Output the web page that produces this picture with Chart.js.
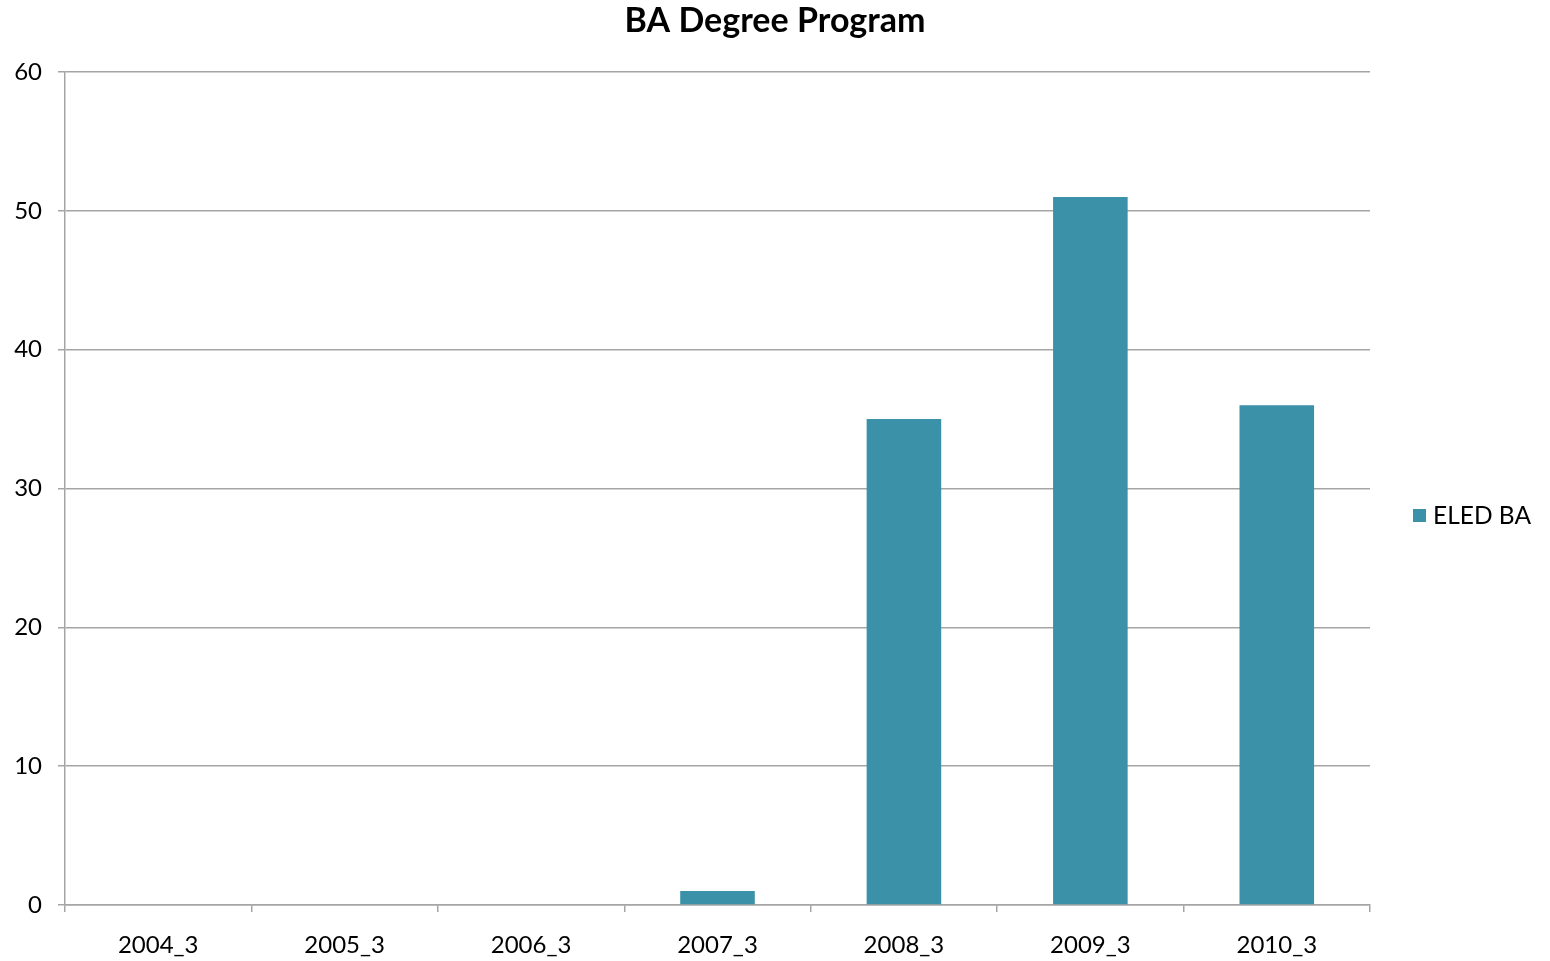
<!DOCTYPE html>
<html>
<head>
<meta charset="utf-8">
<script src="https://cdn.jsdelivr.net/npm/chart.js@4/dist/chart.umd.min.js"></script>
<style>
  html, body { margin: 0; padding: 0; background: #fff; }
  #wrap { width: 1550px; height: 961px; }
</style>
</head>
<body>
<div id="wrap"><canvas id="ba-chart"></canvas></div>
<script>
// 차트 데이터
const categories = ['2004_3', '2005_3', '2006_3', '2007_3', '2008_3', '2009_3', '2010_3'];
const eledBA = [0, 0, 0, 1, 35, 51, 36];
const seriesName = 'ELED BA';
const chartTitle = 'BA Degree Program';
const yTicks = { min: 0, max: 60, step: 10 };

const FONT = 'Lato, "Open Sans", sans-serif';
const BAR_COLOR = '#3a91a8';
const GRID_COLOR = '#a5a5a5';

// 제목과 범례 직접 그리기
const titleLegendPlugin = {
  id: 'titleLegend',
  afterDraw(chart) {
    const ctx = chart.ctx;
    ctx.save();
    ctx.fillStyle = '#000';
    ctx.font = 'bold 34px ' + FONT;
    ctx.textAlign = 'center';
    ctx.textBaseline = 'middle';
    ctx.fillText(chartTitle, chart.width / 2, 21);

    const ds = chart.data.datasets[0];
    ctx.fillStyle = ds.backgroundColor;
    ctx.fillRect(1413, 509, 13, 13);
    ctx.fillStyle = '#000';
    ctx.font = '24.5px ' + FONT;
    ctx.textAlign = 'left';
    ctx.fillText(ds.label, 1433, 516);
    ctx.restore();
  }
};

const ctx = document.getElementById('ba-chart').getContext('2d');
const chart = new Chart(ctx, {
  type: 'bar',
  data: {
    labels: categories,
    datasets: [{
      label: seriesName,
      data: eledBA,
      backgroundColor: BAR_COLOR,
      barPercentage: 0.4,
      categoryPercentage: 1.0
    }]
  },
  plugins: [titleLegendPlugin],
  options: {
    responsive: true,
    maintainAspectRatio: false,
    animation: false,
    layout: { padding: { top: 72, right: 180, left: 0, bottom: 0 } },
    plugins: {
      legend: { display: false },
      title: { display: false },
      tooltip: { enabled: false }
    },
    scales: {
      x: {
        afterFit(scale) { scale.height = 56; },
        grid: {
          offset: true,
          drawOnChartArea: false,
          drawTicks: true,
          tickLength: 7,
          color: GRID_COLOR,
          lineWidth: 1.5
        },
        border: { color: GRID_COLOR, width: 1.5 },
        ticks: {
          color: '#000',
          font: { family: FONT, size: 24 },
          padding: 19,
          maxRotation: 0
        }
      },
      y: {
        min: yTicks.min,
        max: yTicks.max,
        afterFit(scale) { scale.width = 65; },
        grid: {
          color: GRID_COLOR,
          lineWidth: 1.5,
          tickLength: 7
        },
        border: { color: GRID_COLOR, width: 1.5 },
        ticks: {
          stepSize: yTicks.step,
          color: '#000',
          font: { family: FONT, size: 24 },
          padding: 16
        }
      }
    }
  }
});
</script>
</body>
</html>
